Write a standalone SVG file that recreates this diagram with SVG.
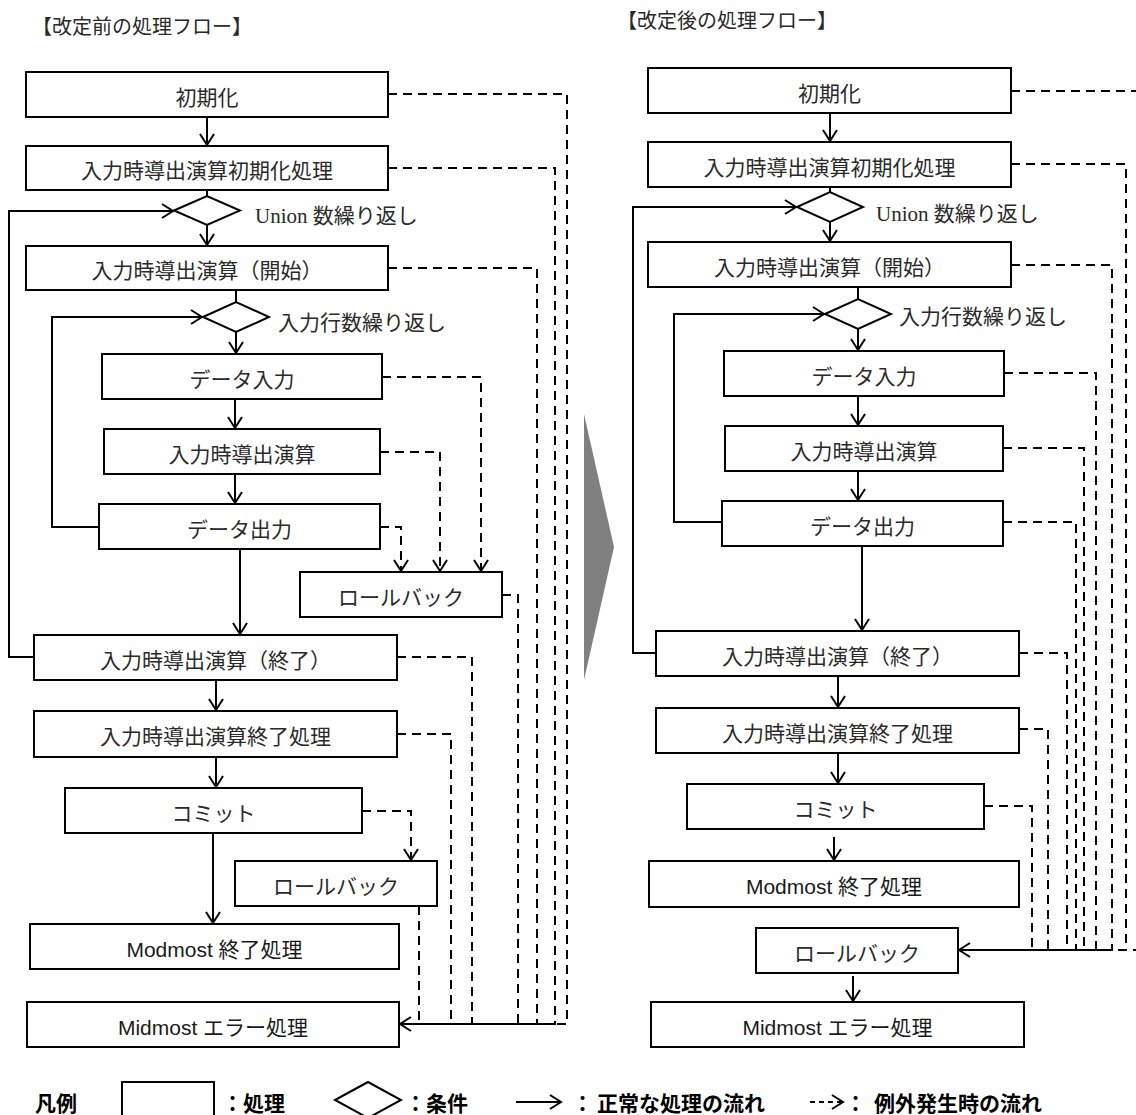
<svg xmlns="http://www.w3.org/2000/svg" width="1136" height="1115" viewBox="0 0 1136 1115">
<style>
.box{fill:#fff;stroke:#000;stroke-width:2}
.dia{fill:#fff;stroke:#000;stroke-width:2}
.ln{fill:none;stroke:#000;stroke-width:2}
.dl{fill:none;stroke:#000;stroke-width:2;stroke-dasharray:9 6}
.t{font-family:"Noto Sans CJK JP","Liberation Serif",serif;font-size:21px;fill:#2a2a2a;text-anchor:middle}
.tl{font-family:"Liberation Sans","Noto Sans CJK JP",sans-serif;font-size:21px;fill:#1a1a1a;text-anchor:middle}
.lab{font-family:"Liberation Serif","Noto Sans CJK JP",serif;font-size:21px;fill:#2a2a2a}
.ttl{font-family:"Noto Sans CJK JP",serif;font-size:20px;fill:#2a2a2a}
.lg{font-family:"Noto Sans CJK JP",sans-serif;font-size:21px;font-weight:bold;fill:#000}
</style>
<defs>
<marker id="arr" markerUnits="userSpaceOnUse" viewBox="0 0 16 16" markerWidth="16" markerHeight="16" refX="13" refY="8" orient="auto">
<path d="M2,1 L13,8 L2,15" fill="none" stroke="#000" stroke-width="2"/>
</marker>
</defs>
<rect width="1136" height="1115" fill="#fff"/>

<text class="ttl" x="32" y="34">【改定前の処理フロー】</text>
<text class="ttl" x="617" y="28">【改定後の処理フロー】</text>

<polygon id="transition-arrow" points="584,414 614,547 584,680" fill="#808080"/>

<g id="connectors">
<path class="ln" d="M207,117 V145" marker-end="url(#arr)"/>
<path class="ln" d="M207,190 V196"/>
<path class="ln" d="M207,225 V245" marker-end="url(#arr)"/>
<path class="ln" d="M34,657 H9 V211 H173" marker-end="url(#arr)"/>
<path class="ln" d="M236,290 V302"/>
<path class="ln" d="M99,527 H52 V317 H202" marker-end="url(#arr)"/>
<path class="ln" d="M236,332 V353" marker-end="url(#arr)"/>
<path class="ln" d="M235,399 V428" marker-end="url(#arr)"/>
<path class="ln" d="M235,474 V503" marker-end="url(#arr)"/>
<path class="ln" d="M240,549 V634" marker-end="url(#arr)"/>
<path class="ln" d="M216,680 V710" marker-end="url(#arr)"/>
<path class="ln" d="M216,757 V787" marker-end="url(#arr)"/>
<path class="ln" d="M213,833 V923" marker-end="url(#arr)"/>
<path class="dl" d="M388,94 H567 V1024 H400" marker-end="url(#arr)"/>
<path class="dl" d="M388,168 H555 V1024 H400"/>
<path class="dl" d="M388,268 H537 V1024 H400"/>
<path class="dl" d="M502,595 H518 V1024 H400"/>
<path class="dl" d="M397,657 H472 V1024 H400"/>
<path class="dl" d="M397,734 H451 V1024 H400"/>
<path class="dl" d="M419,906 V1024 H400"/>
<path class="dl" d="M382,377 H481 V571" marker-end="url(#arr)"/>
<path class="dl" d="M380,452 H440 V571" marker-end="url(#arr)"/>
<path class="dl" d="M380,527 H401 V571" marker-end="url(#arr)"/>
<path class="dl" d="M362,811 H411 V860" marker-end="url(#arr)"/>
<path class="ln" d="M830,113 V141" marker-end="url(#arr)"/>
<path class="ln" d="M830,187 V192"/>
<path class="ln" d="M830,222 V241" marker-end="url(#arr)"/>
<path class="ln" d="M656,653 H633 V207 H796" marker-end="url(#arr)"/>
<path class="ln" d="M858,287 V299"/>
<path class="ln" d="M722,522 H674 V314 H824" marker-end="url(#arr)"/>
<path class="ln" d="M858,329 V350" marker-end="url(#arr)"/>
<path class="ln" d="M858,396 V425" marker-end="url(#arr)"/>
<path class="ln" d="M858,471 V500" marker-end="url(#arr)"/>
<path class="ln" d="M862,546 V630" marker-end="url(#arr)"/>
<path class="ln" d="M838,676 V707" marker-end="url(#arr)"/>
<path class="ln" d="M838,753 V783" marker-end="url(#arr)"/>
<path class="ln" d="M834,837 V860" marker-end="url(#arr)"/>
<path class="ln" d="M853,976 V1001" marker-end="url(#arr)"/>
<path class="dl" d="M1011,91 H1142 V950 H959" marker-end="url(#arr)"/>
<path class="dl" d="M1011,164 H1126 V950 H959"/>
<path class="dl" d="M1011,265 H1112 V950 H959"/>
<path class="dl" d="M1004,373 H1096 V950 H959"/>
<path class="dl" d="M1003,448 H1084 V950 H959"/>
<path class="dl" d="M1003,522 H1076 V950 H959"/>
<path class="dl" d="M1019,653 H1067 V950 H959"/>
<path class="dl" d="M1019,729 H1048 V950 H959"/>
<path class="dl" d="M984,806 H1032 V950 H959"/>
</g>

<g id="L-init"><rect class="box" x="26" y="72" width="362" height="45"/><text class="t" x="207" y="105">初期化</text></g>
<g id="L-calc-init"><rect class="box" x="26" y="146" width="362" height="44"/><text class="t" x="207" y="178">入力時導出演算初期化処理</text></g>
<g id="L-union"><polygon class="dia" points="174,210.5 207,196 240,210.5 207,225"/><text class="lab" x="255" y="223">Union 数繰り返し</text></g>
<g id="L-calc-start"><rect class="box" x="26" y="246" width="362" height="44"/><text class="t" x="207" y="278">入力時導出演算（開始）</text></g>
<g id="L-rows"><polygon class="dia" points="203,317 236,302 269,317 236,332"/><text class="lab" x="278" y="330">入力行数繰り返し</text></g>
<g id="L-data-in"><rect class="box" x="102" y="354" width="280" height="45"/><text class="t" x="242" y="387">データ入力</text></g>
<g id="L-calc"><rect class="box" x="104" y="429" width="276" height="45"/><text class="t" x="242" y="462">入力時導出演算</text></g>
<g id="L-data-out"><rect class="box" x="99" y="504" width="281" height="45"/><text class="t" x="239.5" y="537">データ出力</text></g>
<g id="L-rollback1"><rect class="box" x="300" y="572" width="202" height="45"/><text class="t" x="401" y="605">ロールバック</text></g>
<g id="L-calc-end"><rect class="box" x="34" y="635" width="363" height="45"/><text class="t" x="215.5" y="668">入力時導出演算（終了）</text></g>
<g id="L-calc-fin"><rect class="box" x="34" y="711" width="363" height="46"/><text class="t" x="215.5" y="744">入力時導出演算終了処理</text></g>
<g id="L-commit"><rect class="box" x="65" y="788" width="297" height="45"/><text class="t" x="213.5" y="821">コミット</text></g>
<g id="L-rollback2"><rect class="box" x="235" y="861" width="202" height="45"/><text class="t" x="336" y="894">ロールバック</text></g>
<g id="L-modmost"><rect class="box" x="30" y="924" width="369" height="45"/><text class="tl" x="214.5" y="957">Modmost 終了処理</text></g>
<g id="L-midmost"><rect class="box" x="27" y="1002" width="372" height="45"/><text class="tl" x="213" y="1035">Midmost エラー処理</text></g>

<g id="R-init"><rect class="box" x="648" y="68" width="363" height="45"/><text class="t" x="829.5" y="101">初期化</text></g>
<g id="R-calc-init"><rect class="box" x="648" y="142" width="363" height="45"/><text class="t" x="829.5" y="175">入力時導出演算初期化処理</text></g>
<g id="R-union"><polygon class="dia" points="797,207 830,192 863,207 830,222"/><text class="lab" x="876" y="221">Union 数繰り返し</text></g>
<g id="R-calc-start"><rect class="box" x="648" y="242" width="363" height="45"/><text class="t" x="829.5" y="275">入力時導出演算（開始）</text></g>
<g id="R-rows"><polygon class="dia" points="825,314 858,299 891,314 858,329"/><text class="lab" x="899" y="324">入力行数繰り返し</text></g>
<g id="R-data-in"><rect class="box" x="724" y="351" width="280" height="45"/><text class="t" x="864" y="384">データ入力</text></g>
<g id="R-calc"><rect class="box" x="725" y="426" width="278" height="45"/><text class="t" x="864" y="459">入力時導出演算</text></g>
<g id="R-data-out"><rect class="box" x="722" y="501" width="281" height="45"/><text class="t" x="862.5" y="534">データ出力</text></g>
<g id="R-calc-end"><rect class="box" x="656" y="631" width="363" height="45"/><text class="t" x="837.5" y="664">入力時導出演算（終了）</text></g>
<g id="R-calc-fin"><rect class="box" x="656" y="708" width="363" height="45"/><text class="t" x="837.5" y="741">入力時導出演算終了処理</text></g>
<g id="R-commit"><rect class="box" x="687" y="784" width="297" height="45"/><text class="t" x="835.5" y="817">コミット</text></g>
<g id="R-modmost"><rect class="box" x="649" y="861" width="370" height="46"/><text class="tl" x="834" y="894">Modmost 終了処理</text></g>
<g id="R-rollback"><rect class="box" x="756" y="928" width="202" height="45"/><text class="t" x="857" y="961">ロールバック</text></g>
<g id="R-midmost"><rect class="box" x="651" y="1002" width="373" height="45"/><text class="tl" x="837.5" y="1035">Midmost エラー処理</text></g>

<g id="legend">
<text class="lg" x="35" y="1111">凡例</text>
<rect class="box" x="122" y="1082" width="92" height="50"/>
<text class="lg" x="222" y="1111">：処理</text>
<polygon class="dia" points="335,1100 368,1082 401,1100 368,1118"/>
<text class="lg" x="405" y="1111">：条件</text>
<path class="ln" d="M516,1102 H561" marker-end="url(#arr)"/>
<text class="lg" y="1111"><tspan x="572">：</tspan><tspan x="597">正常な処理の流れ</tspan></text>
<path class="ln" d="M810,1102 H843" stroke-dasharray="5 4" marker-end="url(#arr)"/>
<text class="lg" y="1111"><tspan x="845">：</tspan><tspan x="874">例外発生時の流れ</tspan></text>
</g>
</svg>
